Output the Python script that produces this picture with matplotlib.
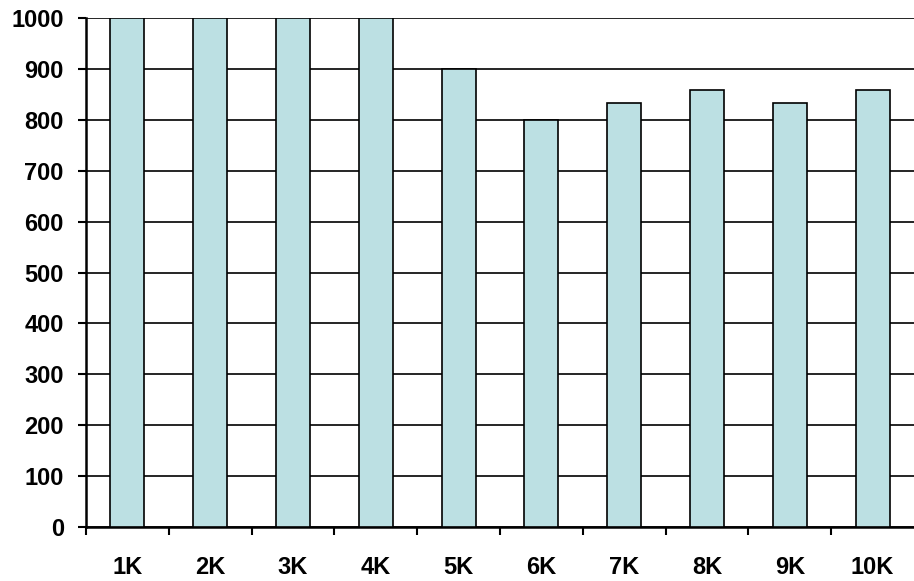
import matplotlib.pyplot as plt
from matplotlib.ticker import FixedLocator

# data
labels = ["1K", "2K", "3K", "4K", "5K", "6K", "7K", "8K", "9K", "10K"]
values = [1000, 1000, 1000, 1000, 900, 800, 833, 859, 833, 859]

plt.rcParams["font.family"] = ["Liberation Sans", "DejaVu Sans"]
plt.rcParams["font.weight"] = "bold"

fig = plt.figure(figsize=(9.14, 5.81), dpi=100)
ax = fig.add_axes([0.0941, 0.0929, 0.9059, 0.876])

x = list(range(len(labels)))
ax.bar(x, values, width=0.41, color="#bce0e3", edgecolor="black",
       linewidth=1.2, zorder=3)

ax.set_xlim(-0.5, len(labels) - 0.5)
ax.set_ylim(0, 1000)
ax.set_yticks(range(0, 1001, 100))

# grid
ax.yaxis.grid(True, color="black", linewidth=1.2, zorder=0)
ax.set_axisbelow(True)

# x labels at centres, ticks at category boundaries
ax.set_xticks(x)
ax.set_xticklabels(labels)
ax.xaxis.set_minor_locator(FixedLocator([i - 0.5 for i in range(len(labels))]))
ax.tick_params(axis="x", which="major", length=0, pad=21, labelsize=17)
ax.tick_params(axis="x", which="minor", length=6, width=1.5, direction="out")
ax.tick_params(axis="y", length=6, width=1.5, pad=10, labelsize=17)

for s in ["top", "right"]:
    ax.spines[s].set_visible(False)
for s in ["left", "bottom"]:
    ax.spines[s].set_linewidth(1.8)

fig.savefig("out.png", dpi=100)
plt.close()
